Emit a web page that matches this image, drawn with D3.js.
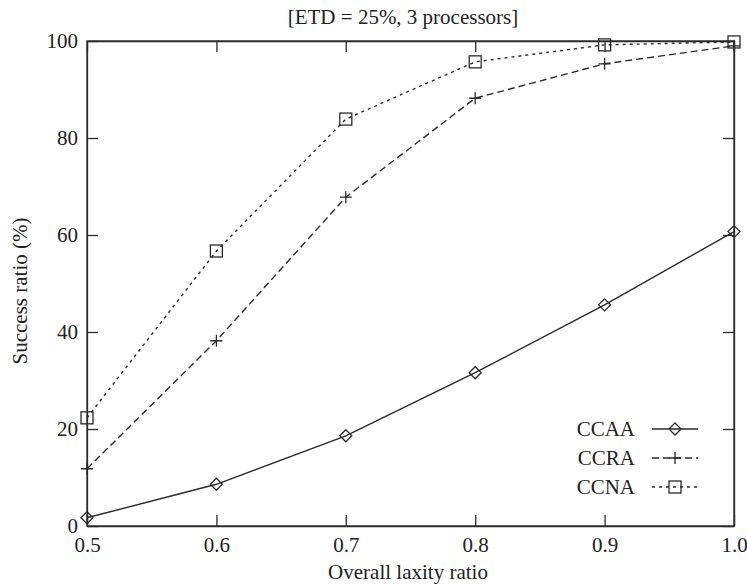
<!DOCTYPE html>
<html>
<head>
<meta charset="utf-8">
<script src="https://cdn.jsdelivr.net/npm/d3@7"></script>
<style>
  body { margin: 0; background: #fff; }
  svg text { font-family: "Liberation Serif", "DejaVu Serif", serif !important; fill: #222; }
</style>
</head>
<body>
<svg id="chart" width="747" height="584"></svg>
<script>
// laxity ratios on the x axis
const laxity = [0.5, 0.6, 0.7, 0.8, 0.9, 1.0];
// success ratio (%) per algorithm
const ccaa = [1.7, 8.6, 18.6, 31.6, 45.6, 60.7];
const ccra = [11.8, 38.2, 67.8, 88.2, 95.3, 99.0];
const ccna = [22.3, 56.7, 83.9, 95.7, 99.2, 99.8];
const xTicks = [0.5, 0.6, 0.7, 0.8, 0.9, 1.0];
const yTicks = [0, 20, 40, 60, 80, 100];

const series = [
    {name: "CCAA", values: ccaa, dash: null, marker: "diamond"},
    {name: "CCRA", values: ccra, dash: "7,4", marker: "plus"},
    {name: "CCNA", values: ccna, dash: "3,4", marker: "square"}
];

const ink = "#2a2a2a";
const svg = d3.select("#chart");
const mLeft = 87, mRight = 734, mTop = 41, mBottom = 526;

const x = d3.scaleLinear().domain([0.5, 1.0]).range([mLeft, mRight]);
const y = d3.scaleLinear().domain([0, 100]).range([mBottom, mTop]);

// axes with inward ticks, mirrored on top and right
const tickLen = 11;
svg.append("g").attr("transform", `translate(0,${mBottom})`)
    .call(d3.axisBottom(x).tickValues(xTicks).tickFormat(d3.format(".1f")).tickSizeInner(-tickLen).tickSizeOuter(0).tickPadding(11));
svg.append("g").attr("transform", `translate(0,${mTop})`)
    .call(d3.axisTop(x).tickValues(xTicks).tickFormat("").tickSizeInner(-tickLen).tickSizeOuter(0));
svg.append("g").attr("transform", `translate(${mLeft},0)`)
    .call(d3.axisLeft(y).tickValues(yTicks).tickSizeInner(-tickLen).tickSizeOuter(0).tickPadding(9));
svg.append("g").attr("transform", `translate(${mRight},0)`)
    .call(d3.axisRight(y).tickValues(yTicks).tickFormat("").tickSizeInner(-tickLen).tickSizeOuter(0));

svg.selectAll(".domain, .tick line").attr("stroke", ink).attr("stroke-width", 1.3);
svg.selectAll(".tick text").attr("font-size", 21);

svg.append("rect").attr("x", mLeft).attr("y", mTop)
    .attr("width", mRight - mLeft).attr("height", mBottom - mTop)
    .attr("fill", "none").attr("stroke", ink).attr("stroke-width", 1.3);

function drawMarker(g, type, cx, cy) {
    if (type === "diamond") {
        g.append("path").attr("d", `M${cx},${cy - 6}L${cx + 6},${cy}L${cx},${cy + 6}L${cx - 6},${cy}Z`)
            .attr("fill", "none").attr("stroke", ink).attr("stroke-width", 1.3);
    } else if (type === "plus") {
        g.append("path").attr("d", `M${cx - 6},${cy}H${cx + 6}M${cx},${cy - 6}V${cy + 6}`)
            .attr("fill", "none").attr("stroke", ink).attr("stroke-width", 1.3);
    } else {
        g.append("rect").attr("x", cx - 6).attr("y", cy - 6).attr("width", 12).attr("height", 12)
            .attr("fill", "none").attr("stroke", ink).attr("stroke-width", 1.3);
    }
}

const line = d3.line().x((d, i) => x(laxity[i])).y(d => y(d));

series.forEach(s => {
    const g = svg.append("g");
    g.append("path").datum(s.values).attr("d", line)
        .attr("fill", "none").attr("stroke", ink).attr("stroke-width", 1.4)
        .attr("stroke-dasharray", s.dash);
    s.values.forEach((v, i) => drawMarker(g, s.marker, x(laxity[i]), y(v)));
});

// legend
const legend = svg.append("g");
series.forEach((s, i) => {
    const ly = 429 + i * 29;
    legend.append("text").attr("x", 635).attr("y", ly + 7).attr("text-anchor", "end")
        .attr("font-size", 21).text(s.name);
    legend.append("line").attr("x1", 652).attr("x2", 698).attr("y1", ly).attr("y2", ly)
        .attr("stroke", ink).attr("stroke-width", 1.4).attr("stroke-dasharray", s.dash);
    drawMarker(legend, s.marker, 675, ly);
});

// titles
svg.append("text").attr("x", 403).attr("y", 24).attr("text-anchor", "middle")
    .attr("font-size", 21).text("[ETD = 25%, 3 processors]");
svg.append("text").attr("x", 408).attr("y", 579).attr("text-anchor", "middle")
    .attr("font-size", 21).text("Overall laxity ratio");
svg.append("text").attr("transform", "translate(27,291) rotate(-90)").attr("text-anchor", "middle")
    .attr("font-size", 21).text("Success ratio (%)");
</script>
</body>
</html>
